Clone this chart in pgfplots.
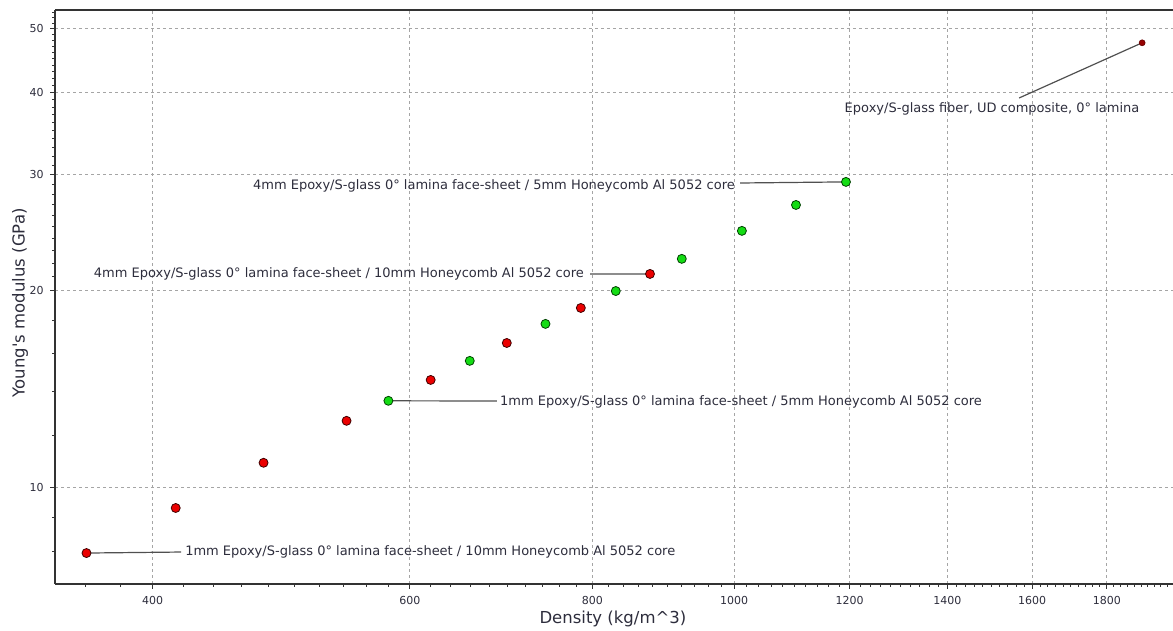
\documentclass[border=0pt]{standalone}
\usepackage{fontspec}
\setmainfont{DejaVu Sans}
\newfontfamily\plainfont{DejaVu Sans}[Ligatures=TeXOff]
\usepackage{pgfplots}
\pgfplotsset{compat=1.18}
\definecolor{txt}{RGB}{45,45,60}
\definecolor{ptred}{RGB}{235,0,0}
\definecolor{ptgreen}{RGB}{20,220,20}
\definecolor{ptdark}{RGB}{150,0,0}
\definecolor{gridc}{RGB}{165,165,165}
\definecolor{anno}{RGB}{80,80,80}
\begin{document}
\begin{tikzpicture}[x=1pt,y=1pt]
\begin{axis}[
  at={(0,0)}, anchor=south west,
  scale only axis, width=1118pt, height=574pt,
  xmode=log, ymode=log,
  xmin=343, xmax=1998, ymin=7.14, ymax=53.4,
  axis x line*=box, axis y line*=left,
  xtick pos=left,
  axis line style={black!80, line width=1.2pt},
  xtick={400,600,800,1000,1200,1400,1600,1800},
  xticklabels={400,600,800,1000,1200,1400,1600,1800},
  ytick={10,20,30,40,50},
  yticklabels={10,20,30,40,50},
  minor xtick={360,380,420,440,460,480,500,520,540,560,580,620,640,660,680,700,720,740,760,780,820,840,860,880,900,920,940,960,980,1020,1040,1060,1080,1100,1120,1140,1160,1180,1220,1240,1260,1280,1300,1320,1340,1360,1380,1420,1440,1460,1480,1500,1520,1540,1560,1580,1620,1640,1660,1680,1700,1720,1740,1760,1780,1820,1840,1860,1880,1900,1920,1940,1960,1980},
  minor ytick={8,9,12,14,16,18,21,22,23,24,25,26,27,28,29,31,32,33,34,35,36,37,38,39,41,42,43,44,45,46,47,48,49,51,52,53},
  tick align=outside,
  major tick length=5pt, minor tick length=3pt,
  every tick/.style={black!80, line width=0.9pt},
  grid=major,
  major grid style={gridc, line width=1pt, dash pattern=on 3pt off 3pt},
  /pgf/number format/assume math mode=true,
  tick label style={font=\fontsize{11}{13}\selectfont, text=txt},
  xticklabel style={yshift=-4pt},
  yticklabel style={xshift=-3pt},
  xlabel={Density (kg/m\textasciicircum 3)},
  ylabel={{\plainfont Young's modulus (GPa)}},
  label style={font=\fontsize{16.5}{19}\selectfont, text=txt},
  xlabel style={at={(axis description cs:0.499,-0.061)}, anchor=center},
  ylabel style={at={(axis description cs:-0.0313,0.49)}, anchor=center},
  clip=false,
]
% leader lines
\draw[anno, line width=1.2pt] (axis cs:1903,47.6) -- (axis description cs:0.8623,0.8467);
\draw[anno, line width=1.2pt] (axis cs:1193,29.23) -- (axis description cs:0.6127,0.6986);
\draw[anno, line width=1.2pt] (axis cs:876,21.17) -- (axis description cs:0.4785,0.5401);
\draw[anno, line width=1.2pt] (axis cs:580,13.57) -- (axis description cs:0.3953,0.3188);
\draw[anno, line width=1.2pt] (axis cs:360.4,7.96) -- (axis description cs:0.1127,0.0557);
% labels
\begin{scope}[every node/.style={font=\fontsize{13}{15}\selectfont, text=txt, inner sep=0pt}]
\node[anchor=north] at (axis description cs:0.8381,0.8397) {Epoxy/S-glass fiber, UD composite, 0° lamina};
\node[anchor=east] at (axis description cs:0.6082,0.6934) {4mm Epoxy/S-glass 0° lamina face-sheet / 5mm Honeycomb Al 5052 core};
\node[anchor=east] at (axis description cs:0.4732,0.5401) {4mm Epoxy/S-glass 0° lamina face-sheet / 10mm Honeycomb Al 5052 core};
\node[anchor=west] at (axis description cs:0.3980,0.3171) {1mm Epoxy/S-glass 0° lamina face-sheet / 5mm Honeycomb Al 5052 core};
\node[anchor=west] at (axis description cs:0.1163,0.0557) {1mm Epoxy/S-glass 0° lamina face-sheet / 10mm Honeycomb Al 5052 core};
\end{scope}
\addplot[only marks, mark=*, mark size=4.5pt, mark options={fill=ptred, draw=black!75!red, line width=0.8pt}] coordinates {
(360.4,7.96) (414.8,9.32) (476.4,10.92) (543,12.65) (620,14.6) (699,16.62) (785.6,18.79) (876,21.17)
};
\addplot[only marks, mark=*, mark size=4.5pt, mark options={fill=ptgreen, draw=black!75!green, line width=0.8pt}] coordinates {
(580,13.57) (659.4,15.61) (743,17.77) (830,19.94) (921,22.32) (1012.5,24.62) (1102.6,26.96) (1193,29.23)
};
\addplot[only marks, mark=*, mark size=3pt, mark options={fill=ptdark, draw=black!60!red, line width=0.6pt}] coordinates {
(1903,47.6)
};
\end{axis}
\pgfresetboundingbox
\path[use as bounding box] (-55,-46) rectangle (1118,584);
\end{tikzpicture}
\end{document}
